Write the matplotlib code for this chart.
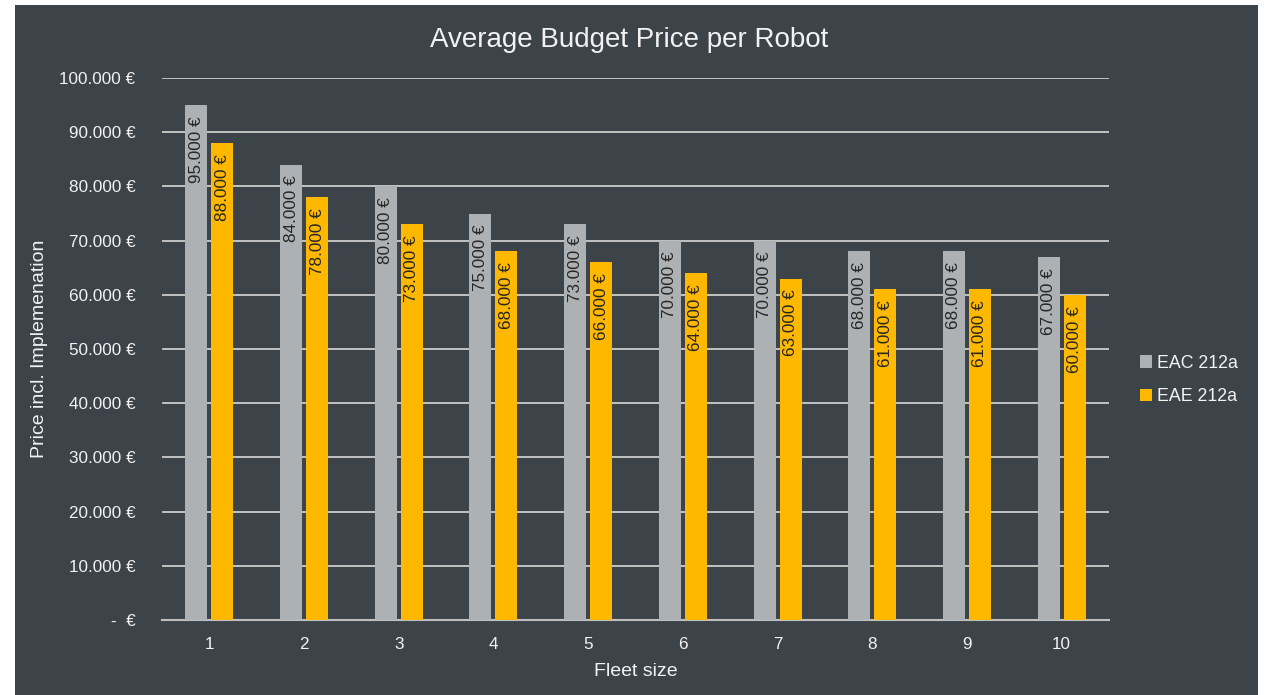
import matplotlib
matplotlib.use("Agg")
import matplotlib.pyplot as plt
from matplotlib.patches import Rectangle
import numpy as np

plt.rcParams['font.family'] = ['Liberation Sans', 'DejaVu Sans']

categories = ["1", "2", "3", "4", "5", "6", "7", "8", "9", "10"]
eac_212a = [95000, 84000, 80000, 75000, 73000, 70000, 70000, 68000, 68000, 67000]
eae_212a = [88000, 78000, 73000, 68000, 66000, 64000, 63000, 61000, 61000, 60000]
series_names = ["EAC 212a", "EAE 212a"]
yticks = list(range(0, 100001, 10000))

BG = "#3d4449"
GRAY = "#aeb1b3"
ORANGE = "#ffb800"
TXT = "#f2f2f2"
GRID = "#d9d9d9"

W, H = 1264, 695
fig = plt.figure(figsize=(W / 100, H / 100), dpi=100, facecolor="white")
fig.patches.append(Rectangle((15 / W, 0), (1258 - 15) / W, (H - 5) / H,
                             transform=fig.transFigure, facecolor=BG,
                             edgecolor="none", zorder=-10))

ax = fig.add_axes([162 / W, (H - 620) / H, (1109 - 162) / W, (620 - 78) / H])
ax.set_facecolor("none")

def fmt(v):
    if v == 0:
        return "-  €"
    return f"{v:,.0f} €".replace(",", ".")

x = np.arange(len(categories))
bw = 0.232
off = 0.137
b1 = ax.bar(x - off, eac_212a, width=bw, color=GRAY, label=series_names[0], zorder=3)
b2 = ax.bar(x + off, eae_212a, width=bw, color=ORANGE, label=series_names[1], zorder=3)

for bars, vals in ((b1, eac_212a), (b2, eae_212a)):
    for rect, v in zip(bars, vals):
        ax.annotate(fmt(v), xy=(rect.get_x() + rect.get_width() / 2, v),
                    xytext=(0, -11), textcoords="offset pixels",
                    rotation=90, ha="center", va="top",
                    fontsize=12.3, color="#262626", zorder=4)

ax.set_xlim(-0.5, len(categories) - 0.5)
ax.set_ylim(0, 100000)
ax.set_yticks(yticks)
ax.set_yticklabels([fmt(v) for v in yticks])
ax.set_xticks(x)
ax.set_xticklabels(categories)
ax.tick_params(axis="both", length=0, colors=TXT, labelsize=12.3)
ax.tick_params(axis="y", pad=19)
ax.tick_params(axis="x", pad=12)
ax.yaxis.grid(True, color=GRID, linewidth=1.2, zorder=1)
ax.set_axisbelow(True)
for s in ["top", "right", "left"]:
    ax.spines[s].set_visible(False)
ax.spines["bottom"].set_color("#bfbfbf")
ax.spines["bottom"].set_linewidth(1.5)

ax.set_xlabel("Fleet size", color=TXT, fontsize=14, labelpad=8)
fig.text(40 / W, 1 - 349 / H, "Price incl. Implemenation", rotation=90,
         ha="center", va="center", color=TXT, fontsize=14)
fig.text(629 / W, 1 - 40 / H, "Average Budget Price per Robot",
         ha="center", va="center", color=TXT, fontsize=20)

leg = fig.legend(handles=[b1, b2], labels=series_names,
                 loc="center left", bbox_to_anchor=(1124 / W, 1 - 380 / H),
                 frameon=False, fontsize=12.8, labelcolor=TXT,
                 handlelength=0.7, handleheight=0.7, handletextpad=0.25,
                 labelspacing=0.95)

fig.savefig("out.png", dpi=100, facecolor=fig.get_facecolor())
